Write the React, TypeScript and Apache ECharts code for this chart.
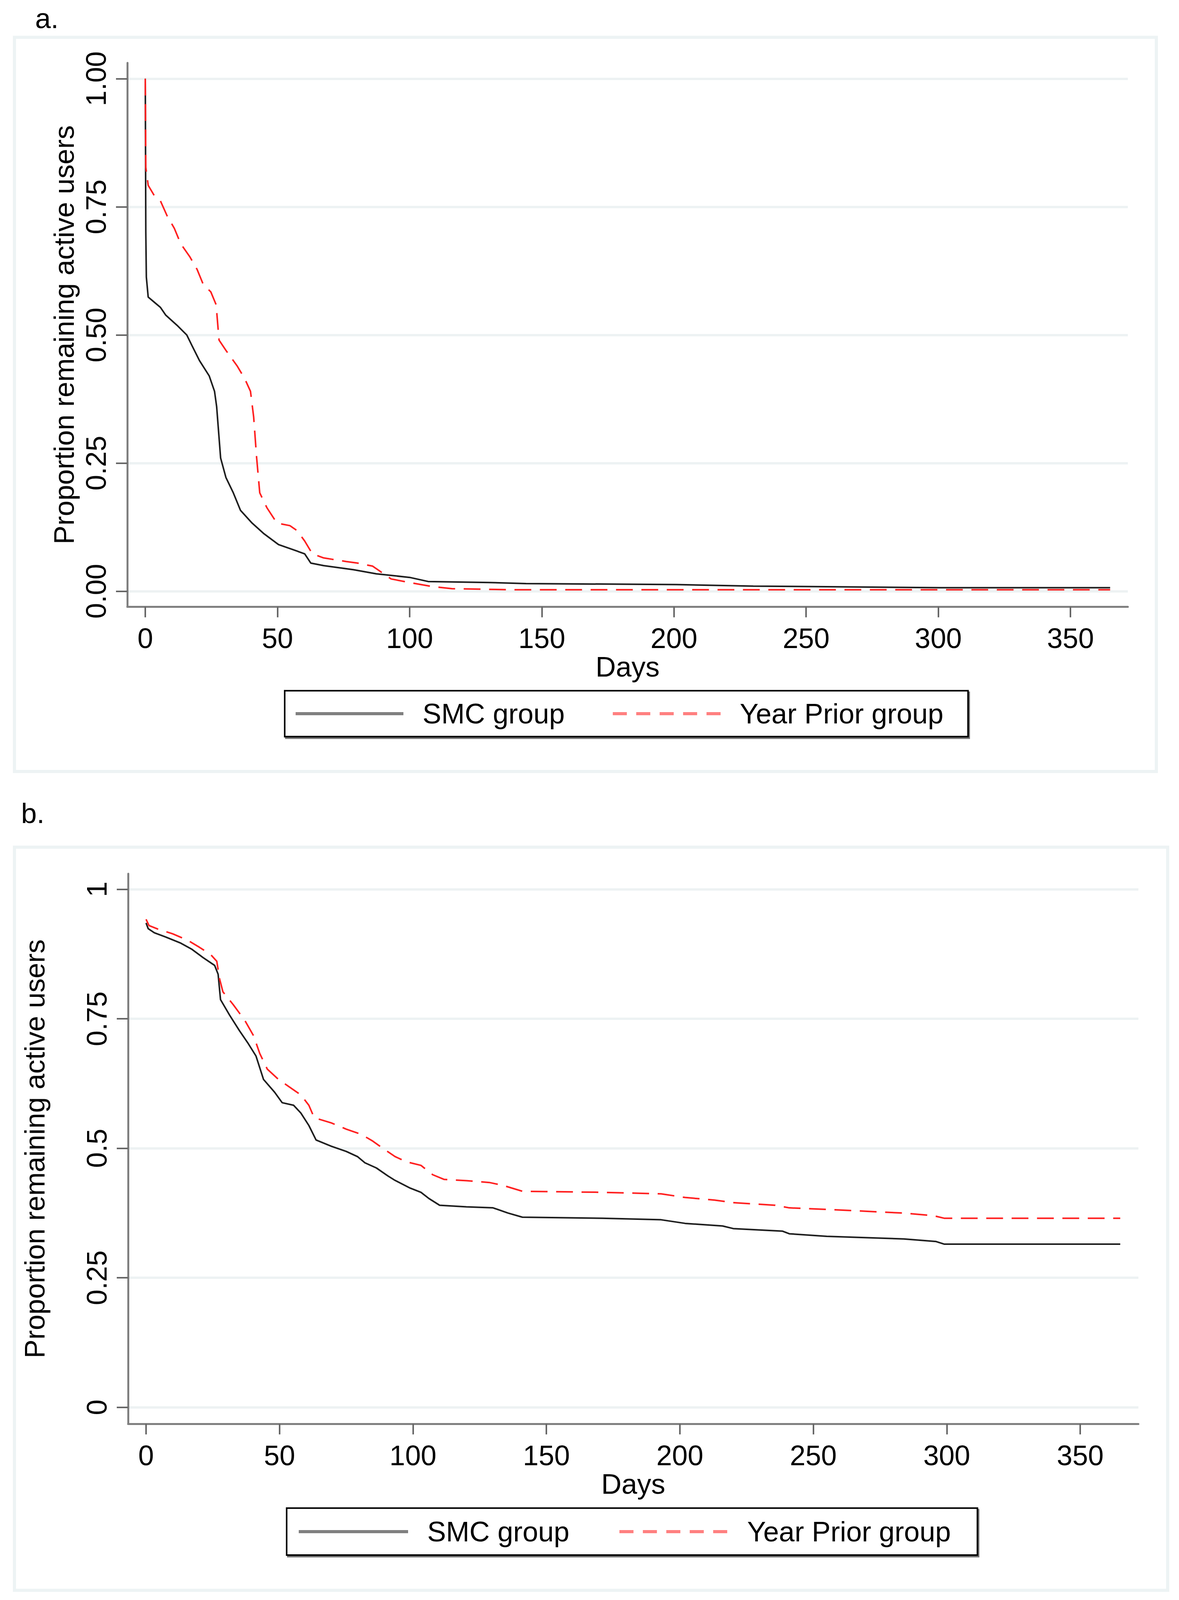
import React, { useEffect, useRef } from 'react';
import * as echarts from 'echarts';

// ---------- texts & ticks ----------
const xTicks = [0, 50, 100, 150, 200, 250, 300, 350];
const yTicks = [0, 0.25, 0.5, 0.75, 1];
const yLabelsA = ['0.00', '0.25', '0.50', '0.75', '1.00'];
const yLabelsB = ['0', '0.25', '0.5', '0.75', '1'];
const seriesNames = ['SMC group', 'Year Prior group'];
const xTitle = 'Days';
const yTitle = 'Proportion remaining active users';
const panelLabels = ['a.', 'b.'];

// ---------- panel a ----------
const smcA_days = [0, 0.2, 0.4, 1.1, 3.4, 5.7, 7.7, 12, 15.7, 17.6, 20.5, 24.2, 26.2, 27, 27.6, 28.5, 30.5, 33.3, 36, 40.4, 44.7, 50.4, 56, 60.3, 62.6, 67.5, 78.8, 87.4, 100, 107, 130, 144, 201, 230, 301, 365];
const smcA_vals = [1.0, 0.7, 0.613, 0.574, 0.564, 0.554, 0.539, 0.519, 0.5, 0.48, 0.45, 0.42, 0.39, 0.36, 0.32, 0.26, 0.222, 0.192, 0.158, 0.133, 0.113, 0.091, 0.081, 0.073, 0.055, 0.05, 0.042, 0.034, 0.027, 0.019, 0.017, 0.015, 0.013, 0.01, 0.007, 0.007];
const yrA_days = [0, 0.2, 1.1, 3.4, 5.7, 8.3, 11, 13.4, 16.8, 19.6, 21.9, 24.8, 26.8, 27.9, 30.5, 34.7, 37.6, 39.8, 41, 42.1, 43.3, 46, 49.8, 54.7, 57.5, 60.3, 63.2, 67.5, 76, 80.3, 86, 88.8, 93, 100, 108.7, 116, 138.6, 365];
const yrA_vals = [1.0, 0.827, 0.792, 0.772, 0.762, 0.732, 0.708, 0.678, 0.653, 0.628, 0.599, 0.584, 0.559, 0.49, 0.47, 0.44, 0.415, 0.39, 0.34, 0.262, 0.192, 0.163, 0.133, 0.128, 0.118, 0.098, 0.073, 0.065, 0.058, 0.055, 0.049, 0.039, 0.024, 0.017, 0.009, 0.005, 0.003, 0.003];

// ---------- panel b ----------
const smcB_days = [0, 0.8, 3.1, 7.3, 13, 17.2, 21.4, 25.7, 27, 27.9, 31.3, 35, 38.3, 41.2, 44, 48.2, 51, 55.3, 58, 61, 63.7, 69.4, 75, 79.2, 82, 86.3, 90.5, 93.3, 99, 103, 106, 110, 120, 130, 135.6, 141, 171, 193, 202, 216, 220, 238.5, 241, 255, 284, 296, 299, 365];
const smcB_vals = [0.935, 0.924, 0.916, 0.908, 0.896, 0.884, 0.868, 0.853, 0.836, 0.787, 0.757, 0.727, 0.702, 0.678, 0.633, 0.608, 0.588, 0.583, 0.568, 0.544, 0.516, 0.504, 0.494, 0.484, 0.472, 0.462, 0.447, 0.438, 0.423, 0.415, 0.403, 0.39, 0.387, 0.385, 0.375, 0.367, 0.365, 0.362, 0.355, 0.35, 0.345, 0.34, 0.335, 0.33, 0.325, 0.32, 0.315, 0.315];
const yrB_days = [0, 1.1, 4.5, 10, 15.8, 20, 24.2, 26.5, 27.6, 28.8, 32.7, 37, 40.3, 42.6, 45.4, 49.6, 53.8, 58, 61, 63, 69.4, 75, 80.6, 84.9, 89, 93.3, 97.5, 103, 107.4, 111.6, 120, 128.6, 134, 141, 171, 193, 202, 213, 220, 235.7, 241, 255, 283.6, 295, 299, 365];
const yrB_vals = [0.942, 0.93, 0.923, 0.914, 0.901, 0.888, 0.874, 0.861, 0.826, 0.802, 0.777, 0.747, 0.717, 0.683, 0.653, 0.633, 0.618, 0.603, 0.583, 0.559, 0.549, 0.537, 0.527, 0.514, 0.499, 0.484, 0.474, 0.467, 0.449, 0.44, 0.4375, 0.434, 0.428, 0.417, 0.415, 0.412, 0.405, 0.4, 0.395, 0.39, 0.385, 0.382, 0.375, 0.37, 0.365, 0.365];

const FONT = '"Liberation Sans", Arial, sans-serif';
const AXIS_GREY = '#7f7f7f';
const PAGE_W = 3019;
const PAGE_H = 4633;

const zip = (d: number[], v: number[]) => d.map((x, i) => [x, v[i]]);

function labelFor(labels: string[]) {
  return (val: number) => {
    const i = yTicks.findIndex((t) => Math.abs(t - val) < 1e-9);
    return i >= 0 ? labels[i] : '';
  };
}

function makeX(gridIndex: number, min: number, max: number, K: number) {
  return {
    type: 'value',
    gridIndex,
    min,
    max,
    position: 'bottom',
    name: xTitle,
    nameLocation: 'middle',
    nameGap: Math.round(130 * K),
    nameTextStyle: { fontSize: 72, fontFamily: FONT, color: '#000', lineHeight: 72 },
    axisLine: { show: true, onZero: false, lineStyle: { color: AXIS_GREY, width: 5 } },
    axisTick: { show: true, customValues: xTicks, length: Math.round(30 * K), lineStyle: { color: '#666', width: 4 } },
    axisLabel: {
      show: true,
      customValues: xTicks,
      fontSize: 72,
      lineHeight: 72,
      fontFamily: FONT,
      color: '#000',
      margin: Math.round(51 * K),
      formatter: (v: number) => String(v),
    },
    splitLine: { show: false },
  };
}

function makeY(gridIndex: number, min: number, max: number, labels: string[], nameGap: number) {
  return {
    type: 'value',
    gridIndex,
    min,
    max,
    position: 'left',
    name: yTitle,
    nameLocation: 'middle',
    nameGap,
    nameTextStyle: { fontSize: 72, fontFamily: FONT, color: '#000', lineHeight: 72 },
    axisLine: { show: true, onZero: false, lineStyle: { color: AXIS_GREY, width: 5 } },
    axisTick: { show: true, customValues: yTicks, length: 29, lineStyle: { color: '#666', width: 4 } },
    axisLabel: {
      show: true,
      customValues: yTicks,
      rotate: 90,
      fontSize: 72,
      lineHeight: 72,
      fontFamily: FONT,
      color: '#000',
      margin: 44,
      formatter: labelFor(labels),
    },
    splitLine: { show: true, lineStyle: { color: '#edf2f3', width: 6 } },
  };
}

const dashIcon = 'path://M0,0h36v8h-36zM60,0h36v8h-36zM120,0h36v8h-36zM180,0h36v8h-36zM240,0h36v8h-36z';

function makeLegend(left: number, top: number, boxH: number, itemWidth: number, itemGap: number, padL: number, padR: number) {
  const padV = Math.max(4, (boxH - 72) / 2);
  return {
    show: true,
    orient: 'horizontal',
    left,
    top,
    itemWidth,
    itemHeight: 8,
    itemGap,
    padding: [padV, padR, padV, padL],
    selectedMode: false,
    backgroundColor: '#fff',
    borderColor: '#000',
    borderWidth: 4,
    borderRadius: 0,
    shadowColor: 'rgba(0,0,0,0.55)',
    shadowOffsetX: 3,
    shadowOffsetY: 4,
    shadowBlur: 0,
    textStyle: { fontSize: 72, lineHeight: 72, fontFamily: FONT, color: '#000', padding: [0, 0, 0, 44] },
    data: [
      { name: seriesNames[0], icon: 'rect', itemStyle: { color: '#808080' } },
      { name: seriesNames[1], icon: dashIcon, itemStyle: { color: '#ff8080' } },
    ],
  };
}

function lineSeries(name: string, idx: number, data: number[][], red: boolean) {
  return {
    type: 'line',
    name,
    xAxisIndex: idx,
    yAxisIndex: idx,
    data,
    symbol: 'none',
    showSymbol: false,
    smooth: false,
    lineStyle: red
      ? { color: '#ff2020', width: 4, type: [43, 22] }
      : { color: '#1e1e1e', width: 4, type: 'solid' },
    itemStyle: { color: red ? '#ff2020' : '#1e1e1e' },
    emphasis: { disabled: true },
  };
}

function viewportH() {
  if (typeof window === 'undefined' || !window.innerHeight) return PAGE_H;
  return Math.min(PAGE_H, window.innerHeight);
}

export default function App() {
  const ref = useRef<HTMLDivElement>(null);
  const H = viewportH();
  useEffect(() => {
    if (!ref.current) return;
    const K = H / PAGE_H; // vertical fit factor (1 when the whole page is visible)
    const ky = (v: number) => v * K;
    const chart = echarts.init(ref.current, null, { renderer: 'svg' });
    const option: any = {
      animation: false,
      backgroundColor: '#fff',
      grid: [
        { left: 326, top: ky(182), width: 2562, height: ky(1575), outerBoundsMode: 'none' },
        { left: 328, top: ky(2530), width: 2587, height: ky(1593), outerBoundsMode: 'none' },
      ],
      xAxis: [makeX(0, -6.8, 371.7, K), makeX(1, -6.73, 371.8, K)],
      yAxis: [makeY(0, -0.0303, 1.031, yLabelsA, 126), makeY(1, -0.032, 1.03, yLabelsB, 203)],
      legend: [
        makeLegend(729, ky(2000), ky(133), 276, 123, 28, 63),
        makeLegend(734, ky(4367), ky(136), 280, 128, 31, 68),
      ],
      series: [
        lineSeries(seriesNames[0], 0, zip(smcA_days, smcA_vals), false),
        lineSeries(seriesNames[1], 0, zip(yrA_days, yrA_vals), true),
        lineSeries(seriesNames[0], 1, zip(smcB_days, smcB_vals), false),
        lineSeries(seriesNames[1], 1, zip(yrB_days, yrB_vals), true),
      ],
      graphic: [
        {
          type: 'rect',
          silent: true,
          z: -10,
          shape: { x: 37, y: ky(108), width: 2924, height: ky(2126) },
          style: { fill: 'none', stroke: '#edf3f4', lineWidth: 8 },
        },
        {
          type: 'rect',
          silent: true,
          z: -10,
          shape: { x: 37, y: ky(2453), width: 2953, height: ky(2152) },
          style: { fill: 'none', stroke: '#edf3f4', lineWidth: 8 },
        },
        {
          type: 'text',
          x: 90,
          y: ky(53),
          style: { text: panelLabels[0], fontSize: 72, fontFamily: FONT, fill: '#000', verticalAlign: 'middle', align: 'left' },
        },
        {
          type: 'text',
          x: 54,
          y: ky(2355),
          style: { text: panelLabels[1], fontSize: 72, fontFamily: FONT, fill: '#000', verticalAlign: 'middle', align: 'left' },
        },
      ],
    };
    chart.setOption(option);
    return () => chart.dispose();
  }, [H]);
  return (
    <div
      ref={ref}
      style={{ margin: -8, width: PAGE_W, height: H, background: '#fff' }}
    />
  );
}
